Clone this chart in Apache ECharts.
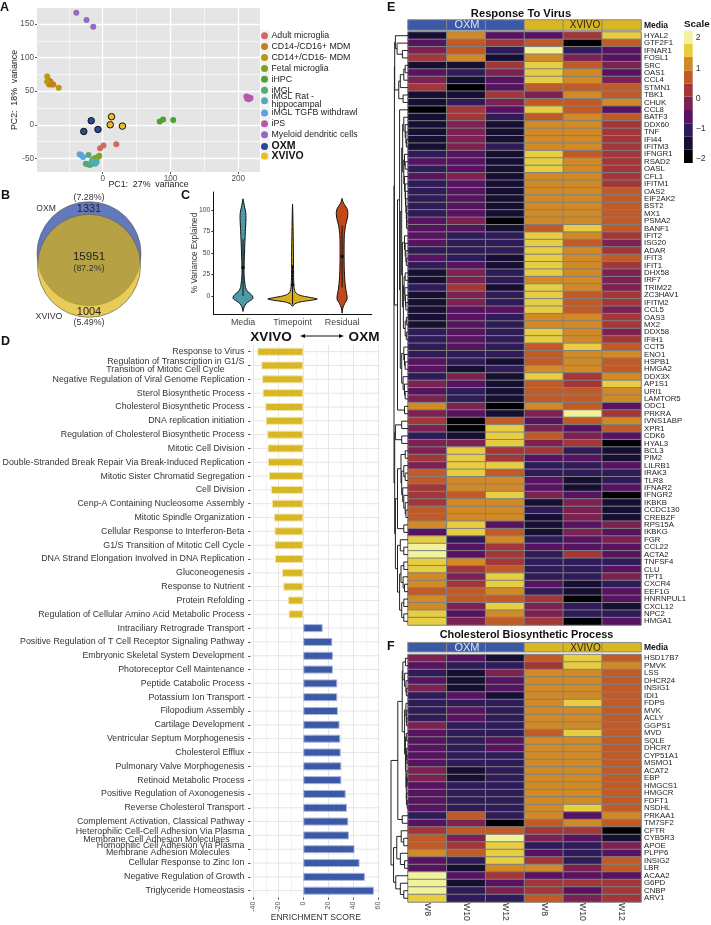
<!DOCTYPE html>
<html><head><meta charset="utf-8">
<script src="https://cdn.jsdelivr.net/npm/echarts@6/dist/echarts.min.js"></script>
<style>html,body{margin:0;padding:0;background:#fff}#c{width:711px;height:925px}</style>
</head><body><div id="c"></div>
<script>
// ---------- Panel A: PCA ----------
const adultMicroglia=[[-4,-35],[1,-31],[20,-29]];
const cd14Neg=[[-79,66],[-77,64],[-75,60],[-79,60],[-73,60]];
const cd14Pos=[[-82,72],[-82,64],[-65,55]];
const fetalMicroglia=[[-5,-46],[-9,-49],[-12,-50],[-15,-52],[-7,-48]];
const iHPC=[[84,5],[89,8],[104,7]];
const iMGL=[[-21,-45],[-25,-58],[-22,-59],[-19,-60],[-16,-58]];
const iMGLRat=[[-14,-56],[-11,-58],[-9,-55],[-16,-54]];
const iMGLTgfb=[[-34,-44],[-32,-45],[-29,-48]];
const iPS=[[212,42],[215,41],[217,39],[213,39],[218,40],[215,38]];
const myeloid=[[-39,167],[-24,156],[-14,146]];
const oxmPoints=[[-17,6],[-28,-10],[-7,-7]];
const xvivoPoints=[[13,12],[11,0],[29,-2]];
// ---------- Panel B: Venn ----------
const vennOnlyOxm=1331, vennShared=15951, vennOnlyXvivo=1004;
// ---------- Panel C: violins, [% variance, half width in category units] ----------
const violinNames=['Media','Timepoint','Residual'];
const mediaViolin=[[-18,0],[-13,.02],[-9,.06],[-6,.13],[-3,.2],[0,.19],[3,.14],[6,.08],[10,.05],[20,.027],[30,.02],[50,.03],[75,.047],[90,.06],[97,.055],[105,.027],[113,0]];
const timepointViolin=[[-12,0],[-9,.05],[-7,.15],[-5,.38],[-3.5,.5],[-2,.38],[0,.2],[2,.1],[5,.05],[10,.03],[25,.02],[50,.018],[75,.012],[100,.004],[107,0]];
const residualViolin=[[-20,0],[-14,.015],[-9,.05],[-4,.1],[0,.1],[6,.08],[15,.06],[30,.045],[50,.04],[70,.045],[82,.07],[90,.105],[96,.117],[101,.105],[106,.05],[110,.015],[113.5,0]];
const violinMeans=[33,13,46];
const violinLows=[0,-10,10];
const violinHighs=[66,36,82];
// ---------- Panel D: enrichment ----------
const termLabels=['Response to Virus','Regulation of Transcription in G1/S\nTransition of Mitotic Cell Cycle\u00a0\u00a0\u00a0\u00a0\u00a0\u00a0\u00a0\u00a0','Negative Regulation of Viral Genome Replication','Sterol Biosynthetic Process','Cholesterol Biosynthetic Process','DNA replication initiation','Regulation of Cholesterol Biosynthetic Process','Mitotic Cell Division','Double-Stranded Break Repair Via Break-Induced Replication','Mitotic Sister Chromatid Segregation','Cell Division','Cenp-A Containing Nucleosome Assembly','Mitotic Spindle Organization','Cellular Response to Interferon-Beta','G1/S Transition of Mitotic Cell Cycle','DNA Strand Elongation Involved in DNA Replication','Gluconeogenesis','Response to Nutrient','Protein Refolding','Regulation of Cellular Amino Acid Metabolic Process','Intraciliary Retrograde Transport','Positive Regulation of T Cell Receptor Signaling Pathway','Embryonic Skeletal System Development','Photoreceptor Cell Maintenance','Peptide Catabolic Process','Potassium Ion Transport','Filopodium Assembly','Cartilage Development','Ventricular Septum Morphogenesis','Cholesterol Efflux','Pulmonary Valve Morphogenesis','Retinoid Metabolic Process','Positive Regulation of Axonogenesis','Reverse Cholesterol Transport','Complement Activation, Classical Pathway','Heterophilic Cell-Cell Adhesion Via Plasma\nMembrane Cell Adhesion Moleculaes\u00a0\u00a0\u00a0\u00a0\u00a0\u00a0','Homophilic Cell Adhesion Via Plasma\nMembrane Adhesion Molecules\u00a0\u00a0\u00a0\u00a0\u00a0\u00a0','Cellular Response to Zinc Ion','Negative Regulation of Growth','Triglyceride Homeostasis'];
const xvivoScores=[-36.8,-33.6,-33,-32.5,-30.4,-30,-28.8,-28.5,-28.3,-27.5,-25.9,-25,-23.5,-23,-23,-22.7,-17,-16,-12.3,-11.7];
const oxmScores=[15.5,23.2,23.7,23.7,27.2,27.2,27.7,29,29.6,29.9,30.4,30.4,33.9,35,36,36.5,41,45,49.3,56.5];
// ---------- Panels E, F: heatmaps (values are colour-bin indices of the Scale bar) ----------
const columnLabels=['W8','W10','W12','W8','W10','W12'];
const mediaGroups=[10,10,10,11,11,11];
const virusGenes=['HYAL2','GTF2F1','IFNAR1','FOSL1','SRC','OAS1','CCL4','STMN1','TBK1','CHUK','CCL8','BATF3','DDX60','TNF','IFI44','IFITM3','IFNGR1','RSAD2','OASL','CFL1','IFITM1','OAS2','EIF2AK2','BST2','MX1','PSMA2','BANF1','IFIT2','ISG20','ADAR','IFIT3','IFIT1','DHX58','IRF7','TRIM22','ZC3HAV1','IFITM2','CCL5','OAS3','MX2','DDX58','IFIH1','CCT5','ENO1','HSPB1','HMGA2','DDX3X','AP1S1','URI1','LAMTOR5','ODC1','PRKRA','IVNS1ABP','XPR1','CDK6','HYAL3','BCL3','PIM2','LILRB1','IRAK3','TLR8','IFNAR2','IFNGR2','IKBKB','CCDC130','CREBZF','RPS15A','IKBKG','FGR','CCL22','ACTA2','TNFSF4','CLU','TPT1','CXCR4','EEF1G','HNRNPUL1','CXCL12','NPC2','HMGA1'];
const virusBins=[[1,7,3,3,5,8],[3,6,5,6,0,6],[4,6,2,9,2,3],[5,7,1,7,4,3],[1,1,5,8,6,4],[3,2,4,8,7,3],[4,1,3,8,7,4],[5,0,3,6,6,6],[1,1,5,4,7,6],[1,2,4,6,6,7],
[0,5,3,8,6,3],[1,5,2,6,7,6],[1,4,1,7,7,5],[1,4,1,7,7,5],[1,4,1,7,7,5],[1,4,2,7,7,5],[2,3,1,8,6,5],[3,3,1,8,7,5],[2,3,1,8,7,5],[3,4,1,7,7,5],
[2,3,1,7,7,5],[2,3,1,7,7,6],[2,3,1,7,7,6],[2,3,1,7,7,6],[2,3,1,7,7,6],[3,4,0,7,7,6],[3,3,1,6,8,6],[3,2,2,8,7,5],[3,2,2,8,6,4],[2,2,2,8,7,5],
[3,2,1,8,7,6],[2,3,1,8,7,5],[1,4,2,8,7,4],[1,4,2,7,7,4],[2,5,1,8,7,4],[1,4,2,8,6,5],[1,4,2,8,6,5],[1,3,3,8,6,4],[1,3,2,7,7,5],[1,3,2,7,7,5],
[2,3,2,8,7,4],[2,3,2,8,7,5],[2,3,2,6,8,6],[2,2,2,6,7,7],[3,2,1,6,7,6],[3,1,2,7,7,6],[2,4,1,8,5,7],[4,3,1,6,5,8],[3,2,1,6,6,7],[4,2,1,6,6,7],
[7,4,0,7,6,3],[4,3,1,4,9,5],[5,0,6,3,6,7],[4,0,8,4,3,6],[2,1,8,6,4,3],[4,4,8,4,5,0],[4,8,5,5,2,1],[5,8,5,3,3,1],[4,8,8,2,2,3],[6,8,6,2,2,2],
[6,7,7,3,1,2],[5,7,7,3,1,3],[5,6,8,4,3,0],[5,7,7,1,4,1],[6,7,7,2,4,1],[6,7,7,1,4,1],[7,8,3,1,3,4],[3,8,6,1,4,3],[8,2,7,2,3,4],[9,3,5,3,3,3],
[9,3,5,2,5,3],[8,7,5,2,2,2],[8,5,6,2,2,3],[7,4,8,2,2,4],[7,5,8,3,1,2],[6,6,7,2,1,3],[7,6,6,5,0,3],[7,4,8,4,2,1],[8,3,7,4,2,2],[8,4,6,5,0,3]];
const cholesterolGenes=['HSD17B7','PMVK','LSS','DHCR24','INSIG1','IDI1','FDPS','MVK','ACLY','GGPS1','MVD','SQLE','DHCR7','CYP51A1','MSMO1','ACAT2','EBP','HMGCS1','HMGCR','FDFT1','NSDHL','PRKAA1','TM7SF2','CFTR','CYB5R3','APOE','PLPP6','INSIG2','LBR','ACAA2','G6PD','CNBP','ARV1'];
const cholesterolBins=[[4,3,1,6,8,6],[3,2,2,5,8,7],[2,1,4,7,7,6],[3,1,3,7,7,6],[4,1,3,7,7,6],[2,3,1,7,7,6],[2,2,2,7,8,6],[2,3,2,7,7,6],[2,3,2,7,7,6],[4,2,2,7,7,6],
[3,2,2,6,8,6],[3,2,3,7,7,6],[3,2,3,7,7,6],[3,2,2,7,7,6],[3,2,2,7,7,6],[4,1,2,7,7,6],[4,1,2,7,7,6],[3,2,2,7,7,6],[3,2,2,7,7,6],[3,2,2,7,7,6],
[3,2,2,7,8,6],[2,6,2,7,3,7],[3,4,0,6,7,6],[5,6,6,5,5,0],[6,4,9,4,3,1],[6,5,8,2,2,4],[7,6,8,3,2,3],[3,2,8,5,2,6],[3,1,7,7,4,6],[9,3,5,3,3,3],[9,1,3,5,5,5],[9,2,4,5,3,5],[8,2,2,6,4,5]];
const scaleColors=['#000004','#160f33','#2f1a5a','#571362','#7c2152','#a23639','#c05a27','#d28a26','#e6cd42','#f1f29a'];
const scaleEdges=[-2.13,-1.69,-1.25,-0.82,-0.38,0.06,0.49,0.93,1.37,1.80,2.24];
const scaleTicks=[-2,-1,0,1,2];
// dendrograms: [merge height, left, right]; 0 is a leaf, leaves run in row order
const virusTree=[1,
 [.97,[.95,[.9,0,[.78,0,[.4,0,0]]],[.66,[.55,[.3,[.2,0,0],0],0],[.35,0,0]]],
  [.75,[.6,0,[.55,[.45,[.38,[.3,0,[.2,0,[.15,0,[.12,0,0]]]],[.3,[.25,0,[.2,0,0]],[.25,0,[.2,0,[.18,0,[.15,0,[.12,0,[.1,0,[.1,0,0]]]]]]]]],
     [.4,[.25,0,[.2,0,[.15,0,[.12,0,0]]]],[.33,[.28,[.2,0,0],[.22,0,[.18,0,[.15,0,0]]]],[.2,[.12,0,0],[.12,0,0]]]]],
    [.45,[.3,0,[.25,0,[.2,0,0]]],[.35,0,[.25,0,[.2,0,0]]]]]],[.25,0,0]]],
 [.95,[.9,[.45,0,0],[.45,0,0]],
  [.9,[.75,[.5,[.2,0,0],[.45,[.3,0,[.2,0,0]],[.38,0,[.3,0,[.2,0,[.15,0,0]]]]]],[.3,0,0]],
   [.75,[.55,0,[.3,0,0]],[.6,[.5,[.3,0,0],[.35,0,[.25,0,0]]],[.45,[.3,0,0],[.3,0,0]]]]]]];
const cholesterolTree=[1,
 [.6,[.34,[.3,[.15,0,0],[.2,0,[.12,0,[.1,0,0]]]],
   [.2,[.12,0,[.1,0,[.08,0,0]]],[.15,[.1,0,0],[.12,[.08,0,[.06,0,0]],[.1,[.07,0,[.05,0,0]],[.09,0,[.05,0,0]]]]]]],[.34,0,0]],
 [.85,[.66,[.4,0,[.25,0,0]],[.45,0,[.2,0,0]]],[.72,0,[.45,0,[.25,0,0]]]]];

const FONT='"Liberation Sans", Arial, sans-serif';
const grids=[],xAxes=[],yAxes=[],series=[];
function addGrid(g,x,y){grids.push({...g,outerBoundsMode:'none'});const i=grids.length-1;xAxes.push({...x,gridIndex:i});yAxes.push({...y,gridIndex:i});return xAxes.length-1;}
const lab=(s,c='#444')=>({fontFamily:FONT,fontSize:s,color:c});

// --- A
const gA=addGrid({left:37,top:8,width:223,height:164,show:true,backgroundColor:'#e5e5e5',borderWidth:0},
 {type:'value',min:-97,max:232,axisLine:{show:false,onZero:false},axisTick:{show:true,length:2,lineStyle:{color:'#555'},customValues:[0,100,200]},
  axisLabel:{...lab(8.2,'#555'),margin:3,customValues:[0,100,200]},splitLine:{show:true,lineStyle:{color:'#fff',width:1.3}},
  name:'PC1:  27%  variance',nameLocation:'middle',nameGap:8,nameMoveOverlap:false,nameTextStyle:{...lab(8.8,'#222')}},
 {type:'value',min:-70.4,max:174,axisLine:{show:false,onZero:false},axisTick:{show:true,length:2,lineStyle:{color:'#555'},customValues:[-50,0,50,100,150]},
  axisLabel:{...lab(8.2,'#555'),margin:3,customValues:[-50,0,50,100,150]},splitLine:{show:true,lineStyle:{color:'#fff',width:1.3}},
  name:'PC2:  18%  variance',nameLocation:'middle',nameGap:18,nameMoveOverlap:false,nameTextStyle:{...lab(8.8,'#222')}});
xAxes.push({gridIndex:0,type:'value',min:-97,max:232,axisLine:{show:false},axisLabel:{show:false},axisTick:{show:false,customValues:[-50,50,150]},splitLine:{show:true,lineStyle:{color:'#fff',width:.6}}});
yAxes.push({gridIndex:0,type:'value',min:-70.4,max:174,axisLine:{show:false},axisLabel:{show:false},axisTick:{show:false,customValues:[-25,25,75,125]},splitLine:{show:true,lineStyle:{color:'#fff',width:.6}}});
const pcaSets=[['Adult microglia',adultMicroglia,'#cf6a60'],['CD14-/CD16+ MDM',cd14Neg,'#c67f1e'],['CD14+/CD16- MDM',cd14Pos,'#b59a12'],['Fetal microglia',fetalMicroglia,'#7fa325'],['iHPC',iHPC,'#4ea132'],['iMGL',iMGL,'#55a878'],['iMGL Rat -\nhippocampal',iMGLRat,'#50aeb0'],['iMGL TGFB withdrawl',iMGLTgfb,'#5aa2e0'],['iPS',iPS,'#b45aa8'],['Myeloid dendritic cells',myeloid,'#8f6cc0'],['OXM',oxmPoints,'#274a9b'],['XVIVO',xvivoPoints,'#e5c01e']];
pcaSets.forEach(([name,data,color],i)=>{series.push({type:'scatter',name,data,xAxisIndex:gA,yAxisIndex:gA,symbolSize:i>=10?6.5:6,itemStyle:{color,borderColor:i>=10?'#111':color,borderWidth:i>=10?1:0,opacity:1},z:3+i});});

// --- B
const gB=addGrid({left:30,top:190,width:120,height:140},{type:'value',min:0,max:120,show:false},{type:'value',min:0,max:140,inverse:true,show:false});
const vennScale=.3956;
series.push({type:'scatter',xAxisIndex:gB,yAxisIndex:gB,silent:true,symbolSize:v=>2*vennScale*Math.sqrt(v[2]),z:3,
 data:[{value:[59,63.7,vennOnlyOxm+vennShared],itemStyle:{color:'#6479bb',borderColor:'#555',borderWidth:.6,opacity:1}}]});
series.push({type:'scatter',xAxisIndex:gB,yAxisIndex:gB,silent:true,symbolSize:v=>2*vennScale*Math.sqrt(v[2]),z:4,
 data:[{value:[59,75.8,vennOnlyXvivo+vennShared],itemStyle:{color:'rgba(221,180,12,.68)',borderColor:'#555',borderWidth:.6,opacity:1}}]});

// --- C
const gC=addGrid({left:213.3,top:192,width:158.5,height:122},
 {type:'value',min:.4,max:3.6,splitLine:{show:false},axisLine:{show:true,onZero:false,lineStyle:{color:'#111',width:1}},axisTick:{show:false,customValues:[1,2,3]},
  axisLabel:{...lab(8.9,'#444'),margin:4,customValues:[1,2,3],formatter:v=>violinNames[v-1]||''}},
 {type:'value',min:-21,max:121,splitLine:{show:false},axisLine:{show:true,onZero:false,lineStyle:{color:'#111',width:1}},axisTick:{show:true,length:2,lineStyle:{color:'#333'},customValues:[0,25,50,75,100]},
  axisLabel:{...lab(6.8,'#444'),margin:3,customValues:[0,25,50,75,100]},name:'% Variance Explained',nameLocation:'middle',nameGap:15,nameMoveOverlap:false,nameTextStyle:{...lab(8.3,'#333')}});
const violinShapes=[mediaViolin,timepointViolin,residualViolin];
const violinColors=['#4f9aa8','#d8b01c','#c2491c'];
series.push({type:'custom',xAxisIndex:gC,yAxisIndex:gC,silent:true,z:3,data:violinNames.map((n,i)=>[i+1,violinMeans[i],violinLows[i],violinHighs[i]]),
 renderItem(p,api){const i=p.dataIndex,c=i+1,sh=violinShapes[i];
  const left=sh.map(([y,w])=>api.coord([c-w,y])),right=sh.slice().reverse().map(([y,w])=>api.coord([c+w,y]));
  const m=api.coord([c,api.value(1)]),lo=api.coord([c,api.value(2)]),hi=api.coord([c,api.value(3)]);
  return {type:'group',children:[
   {type:'polygon',shape:{points:left.concat(right),smooth:.25},style:{fill:violinColors[i],stroke:'#111',lineWidth:1}},
   {type:'line',shape:{x1:lo[0],y1:lo[1],x2:hi[0],y2:hi[1]},style:{stroke:'#111',lineWidth:1}},
   {type:'circle',shape:{cx:m[0],cy:m[1],r:1.8},style:{fill:'#111'}}]};}});

// --- D
const gD=addGrid({left:253.3,top:344.8,width:125,height:552.8},
 {type:'value',min:-40,max:60,interval:20,axisLine:{show:false,onZero:false},axisTick:{show:true,length:2,lineStyle:{color:'#444'}},axisLabel:{...lab(7,'#555'),rotate:90,margin:4},
  splitLine:{show:true,lineStyle:{color:'#e6e6e6',width:1}},minorSplitLine:{show:true,lineStyle:{color:'#efefef',width:.7}},minorTick:{show:false,splitNumber:2},
  name:'ENRICHMENT SCORE',nameLocation:'middle',nameGap:16,nameMoveOverlap:false,nameTextStyle:{...lab(8.6,'#333')}},
 {type:'category',inverse:true,data:termLabels,offset:3,axisLine:{show:false,onZero:false},axisTick:{show:true,length:2,alignWithLabel:true,lineStyle:{color:'#333'}},
  axisLabel:{...lab(8.83,'#333'),interval:0,margin:6,lineHeight:7.4}});
series.push({type:'custom',xAxisIndex:gD,yAxisIndex:gD,silent:true,z:1,data:termLabels.map((t,i)=>[i]),
 renderItem(p,api){const a=api.coord([-40,p.dataIndex]),b=api.coord([60,p.dataIndex]);
  return {type:'line',shape:{x1:a[0]-2,y1:a[1],x2:b[0]+2,y2:b[1]},style:{stroke:'#e6e6e6',lineWidth:1}};}});
const nulls20=xvivoScores.map(()=>null);
series.push({type:'bar',xAxisIndex:gD,yAxisIndex:gD,data:xvivoScores.concat(nulls20),barWidth:8,barGap:'-100%',z:3,itemStyle:{color:'#d8b722',borderColor:'#f0e4ad',borderWidth:1}});
series.push({type:'bar',xAxisIndex:gD,yAxisIndex:gD,data:nulls20.concat(oxmScores),barWidth:8,barGap:'-100%',z:3,itemStyle:{color:'#3b59a6',borderColor:'#a9b6da',borderWidth:1}});

// --- heatmaps
function heatPanel(genes,bins,tree,top,height,annotTop,annotH,dendLeft,showCols){
 const L=408,W=233;
 const gAnn=addGrid({left:L,top:annotTop,width:W,height:annotH},{type:'category',data:[0,1,2,3,4,5],show:false},{type:'category',data:['Media'],show:false});
 series.push({type:'heatmap',xAxisIndex:gAnn,yAxisIndex:gAnn,silent:true,data:mediaGroups.map((v,i)=>[i,0,v]),itemStyle:{borderColor:'#8a8a8a',borderWidth:1}});
 const g=addGrid({left:L,top,width:W,height},
  showCols?{type:'category',data:columnLabels,axisLine:{show:false},axisTick:{show:false},axisLabel:{...lab(8.7,'#333'),rotate:-90,margin:1,interval:0}}:{type:'category',data:columnLabels,show:false},
  {type:'category',inverse:true,data:genes,position:'right',axisLine:{show:false},axisTick:{show:false},axisLabel:{...lab(7.8,'#222'),interval:0,margin:3}});
 const d=[];bins.forEach((r,y)=>r.forEach((v,x)=>d.push([x,y,v])));
 series.push({type:'heatmap',xAxisIndex:g,yAxisIndex:g,silent:true,data:d,itemStyle:{borderColor:'#808080',borderWidth:1}});
 const gD2=addGrid({left:dendLeft,top,width:L-dendLeft,height},{type:'value',min:0,max:1,inverse:true,show:false},{type:'value',min:0,max:genes.length,inverse:true,show:false});
 const segs=[];let next=0;
 (function walk(n){if(n===0)return{y:next++ +.5,h:0};const A=walk(n[1]),B=walk(n[2]);segs.push([n[0],A.y,A.h,B.y,B.h]);return{y:(A.y+B.y)/2,h:n[0]};})(tree);
 series.push({type:'custom',xAxisIndex:gD2,yAxisIndex:gD2,silent:true,data:segs,
  renderItem(p,api){const h=api.value(0),y1=api.value(1),h1=api.value(2),y2=api.value(3),h2=api.value(4);
   return {type:'polyline',shape:{points:[api.coord([h1,y1]),api.coord([h,y1]),api.coord([h,y2]),api.coord([h2,y2])]},style:{stroke:'#222',lineWidth:1,fill:null}};}});
}
heatPanel(virusGenes,virusBins,virusTree,32,593,20,10,394,false);
heatPanel(cholesterolGenes,cholesterolBins,cholesterolTree,654.5,247.5,642.7,9,391,true);

// --- Scale bar
const gS=addGrid({left:684,top:30.7,width:8.7,height:132.3},{type:'value',min:0,max:1,show:false},
 {type:'value',position:'right',min:-2.13,max:2.24,splitLine:{show:false},axisLine:{show:false,onZero:false},axisTick:{show:false,customValues:scaleTicks},
  axisLabel:{...lab(8.8,'#333'),margin:3,customValues:scaleTicks,formatter:v=>v<0?'\u2212'+(-v):''+v}});
series.push({type:'custom',xAxisIndex:gS,yAxisIndex:gS,silent:true,data:scaleColors.map((c,i)=>[scaleEdges[i],scaleEdges[i+1]]),
 renderItem(p,api){const a=api.coord([0,api.value(1)]),b=api.coord([1,api.value(0)]);
  return {type:'rect',shape:{x:a[0],y:a[1],width:b[0]-a[0],height:b[1]-a[1]},style:{fill:scaleColors[p.dataIndex]}};}});

const t=(text,x,y,size,o={})=>({type:'text',z:100,silent:true,x,y,style:{text,fontFamily:FONT,fontSize:size,fontWeight:o.bold?'bold':'normal',fill:o.color||'#222',align:o.align||'center',verticalAlign:'middle'}});
const graphic=[
 {type:'rect',z:0,shape:{x:261,y:30,width:9,height:130},style:{fill:'#f3f3f3'}},
 t('A',0,8,12.5,{bold:true,align:'left',color:'#111'}),t('B',1,196,12.5,{bold:true,align:'left',color:'#111'}),t('C',181,196,12.5,{bold:true,align:'left',color:'#111'}),t('D',1,342,12.5,{bold:true,align:'left',color:'#111'}),t('E',387,8,12.5,{bold:true,align:'left',color:'#111'}),t('F',387,647,12.5,{bold:true,align:'left',color:'#111'}),
 t('(7.28%)',89,197.5,8.9,{color:'#333'}),t('OXM',46,209,8.6,{color:'#333'}),t(String(vennOnlyOxm),89,209,11,{color:'#223'}),t(String(vennShared),89,257,11.6,{color:'#222'}),t('(87.2%)',89,268.5,8.9,{color:'#333'}),t(String(vennOnlyXvivo),89,311.5,11,{color:'#222'}),t('XVIVO',49,316.5,8.8,{color:'#333'}),t('(5.49%)',89,322.5,8.9,{color:'#333'}),
 t('XVIVO',271,337,13.5,{bold:true,color:'#111'}),t('OXM',364,337,13.5,{bold:true,color:'#111'}),
 {type:'line',z:100,silent:true,shape:{x1:302,y1:336,x2:342,y2:336},style:{stroke:'#111',lineWidth:1}},
 {type:'polygon',z:100,silent:true,shape:{points:[[300,336],[305,334],[305,338]]},style:{fill:'#111'}},
 {type:'polygon',z:100,silent:true,shape:{points:[[344,336],[339,334],[339,338]]},style:{fill:'#111'}},
 t('Response To Virus',521,14,11.2,{bold:true,color:'#111'}),t('OXM',467,25,11,{color:'#dfe4f2'}),t('XVIVO',585,25,10,{color:'#2a2410'}),t('Media',644,25.5,8.5,{bold:true,align:'left',color:'#111'}),
 t('Scale',684,24.5,9.8,{bold:true,align:'left',color:'#111'}),
 t('Cholesterol Biosynthetic Process',526.5,635,10.9,{bold:true,color:'#111'}),t('OXM',467,648,11,{color:'#dfe4f2'}),t('XVIVO',585.5,648,10,{color:'#2a2410'}),t('Media',644,647.5,8.5,{bold:true,align:'left',color:'#111'})
];

const legendBase={show:true,left:261,orient:'vertical',selectedMode:false,itemWidth:8,itemHeight:7,itemGap:1.9,padding:0,icon:'circle',itemStyle:{borderWidth:0},
  formatter:n=>(n==='OXM'||n==='XVIVO')?'{b|'+n+'}':n,
  textStyle:{fontFamily:FONT,fontSize:8.8,color:'#222',lineHeight:7.6,padding:[0,0,0,-2],rich:{b:{fontFamily:FONT,fontWeight:'bold',fontSize:10.5,color:'#111',height:7.5,lineHeight:7.5}}}};
const chart=echarts.init(document.getElementById('c'),null,{renderer:'canvas',width:711,height:925});
chart.setOption({animation:false,backgroundColor:'#fff',textStyle:{fontFamily:FONT},grid:grids,xAxis:xAxes,yAxis:yAxes,series,graphic,
 visualMap:{type:'piecewise',show:false,seriesIndex:series.map((s,i)=>s.type==='heatmap'?i:-1).filter(i=>i>=0),dimension:2,
  pieces:scaleColors.map((c,i)=>({value:i,color:c})).concat([{value:10,color:'#3b59a6'},{value:11,color:'#d8b722'}])},
 legend:[{...legendBase,top:31.2,data:pcaSets.slice(0,6).map(s=>s[0])},{...legendBase,top:92.5,data:pcaSets.slice(6,7).map(s=>s[0])},{...legendBase,top:108.4,data:pcaSets.slice(7,11).map(s=>s[0])},{...legendBase,top:150.5,data:pcaSets.slice(11).map(s=>s[0])}]
});
</script></body></html>
